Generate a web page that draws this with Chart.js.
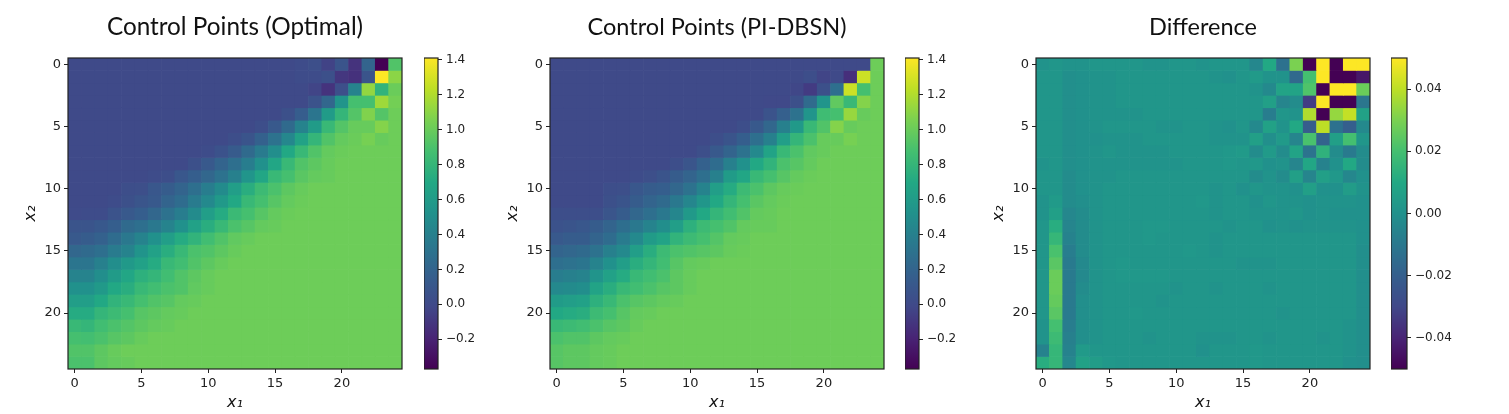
<!DOCTYPE html>
<html>
<head>
<meta charset="utf-8">
<script src="https://cdn.jsdelivr.net/npm/chart.js@4"></script>
<style>
  body { margin: 0; background: #fff; width: 1509px; height: 414px; overflow: hidden; position: relative; }
  canvas { position: absolute; top: 0; }
</style>
</head>
<body>
<canvas id="heatOptimal" style="left:0px" width="406" height="414"></canvas>
<canvas id="barOptimal" style="left:424px" width="70" height="414"></canvas>
<canvas id="heatPinn" style="left:482px" width="406" height="414"></canvas>
<canvas id="barPinn" style="left:905px" width="70" height="414"></canvas>
<canvas id="heatDiff" style="left:968px" width="406" height="414"></canvas>
<canvas id="barDiff" style="left:1391px" width="80" height="414"></canvas>
<script>
const columns = [0,1,2,3,4,5,6,7,8,9,10,11,12,13,14,15,16,17,18,19,20,21,22,23,24];
const axisTicks = [0, 5, 10, 15, 20];
const controlTicks = [-0.2, 0, 0.2, 0.4, 0.6, 0.8, 1.0, 1.2, 1.4];
const diffTicks = [-0.04, -0.02, 0, 0.02, 0.04];
const controlRange = [-0.37, 1.41];
const diffRange = [-0.05, 0.05];
const viridis = ['#440154','#482475','#404889','#355f8d','#2a788e','#21918c','#22a884','#44bf70','#7ad151','#bddf26','#fde725'];

const optimalRows = [
[0,0,0,0,0,0,0,0,0,0,0,0,0,0,0,0,0,.02,.04,-.04,.08,-.12,.2,-.37,.92],
[0,0,0,0,0,0,0,0,0,0,0,0,0,0,0,0,0,.02,.02,.05,-.1,-.13,.08,1.41,1.1],
[0,0,0,0,0,0,0,0,0,0,0,0,0,0,0,0,0,0,-.03,-.12,.04,.42,1.12,.78,1.0],
[0,0,0,0,0,0,0,0,0,0,0,0,0,0,0,0,0,0,.07,.22,.55,.88,.88,1.15,1.03],
[0,0,0,0,0,0,0,0,0,0,0,0,0,0,0,0,.05,.15,.32,.6,.8,.93,1.07,.93,1.01],
[0,0,0,0,0,0,0,0,0,0,0,0,0,0,.03,.12,.24,.42,.6,.82,.93,.99,.99,1.08,1.01],
[0,0,0,0,0,0,0,0,0,0,0,0,.03,.08,.18,.3,.45,.65,.8,.92,.98,1.0,1.04,.99,1.01],
[0,0,0,0,0,0,0,0,0,0,.02,.06,.13,.24,.36,.5,.7,.82,.92,.98,1.0,1.01,1.01,1.01,1.01],
[0,0,0,0,0,0,0,0,0,.05,.12,.2,.28,.38,.52,.68,.82,.92,.96,.99,1.01,1.01,1.01,1.01,1.01],
[0,0,0,0,0,0,.02,.03,.1,.16,.22,.3,.4,.55,.68,.82,.88,.95,.98,.99,1.01,1.01,1.01,1.01,1.01],
[0,0,0,0,.03,.04,.1,.14,.2,.28,.38,.48,.62,.74,.84,.9,.96,.99,1.01,1.01,1.01,1.01,1.01,1.01,1.01],
[0,0,0,.02,.05,.09,.12,.2,.26,.36,.46,.58,.7,.82,.88,.94,.98,1.0,1.01,1.01,1.01,1.01,1.01,1.01,1.01],
[.01,.02,.02,.07,.12,.16,.22,.3,.38,.48,.62,.72,.83,.88,.94,.98,1.0,1.01,1.01,1.01,1.01,1.01,1.01,1.01,1.01],
[.08,.08,.11,.16,.24,.28,.34,.42,.52,.64,.74,.82,.9,.94,.98,.99,1.01,1.01,1.01,1.01,1.01,1.01,1.01,1.01,1.01],
[.12,.14,.18,.26,.34,.42,.52,.62,.72,.78,.86,.92,.97,.99,1.01,1.01,1.01,1.01,1.01,1.01,1.01,1.01,1.01,1.01,1.01],
[.22,.24,.28,.36,.42,.54,.64,.74,.82,.9,.92,.96,.99,1.01,1.01,1.01,1.01,1.01,1.01,1.01,1.01,1.01,1.01,1.01,1.01],
[.32,.32,.4,.5,.58,.64,.72,.82,.86,.92,.96,.99,1.01,1.01,1.01,1.01,1.01,1.01,1.01,1.01,1.01,1.01,1.01,1.01,1.01],
[.42,.42,.5,.6,.68,.76,.8,.86,.92,.96,.99,1.01,1.01,1.01,1.01,1.01,1.01,1.01,1.01,1.01,1.01,1.01,1.01,1.01,1.01],
[.52,.52,.58,.7,.74,.82,.86,.9,.92,.97,.99,1.01,1.01,1.01,1.01,1.01,1.01,1.01,1.01,1.01,1.01,1.01,1.01,1.01,1.01],
[.62,.62,.7,.78,.82,.88,.92,.94,.98,.99,1.01,1.01,1.01,1.01,1.01,1.01,1.01,1.01,1.01,1.01,1.01,1.01,1.01,1.01,1.01],
[.72,.72,.8,.84,.88,.94,.96,.98,.99,1.01,1.01,1.01,1.01,1.01,1.01,1.01,1.01,1.01,1.01,1.01,1.01,1.01,1.01,1.01,1.01],
[.82,.8,.86,.9,.93,.96,.98,.99,1.01,1.01,1.01,1.01,1.01,1.01,1.01,1.01,1.01,1.01,1.01,1.01,1.01,1.01,1.01,1.01,1.01],
[.88,.87,.9,.94,.96,.99,1.01,1.01,1.01,1.01,1.01,1.01,1.01,1.01,1.01,1.01,1.01,1.01,1.01,1.01,1.01,1.01,1.01,1.01,1.01],
[.92,.92,.96,.99,1.01,1.01,1.01,1.01,1.01,1.01,1.01,1.01,1.01,1.01,1.01,1.01,1.01,1.01,1.01,1.01,1.01,1.01,1.01,1.01,1.01],
[.9,.9,.96,.98,.99,1.01,1.01,1.01,1.01,1.01,1.01,1.01,1.01,1.01,1.01,1.01,1.01,1.01,1.01,1.01,1.01,1.01,1.01,1.01,1.01]
];

const pinnRows = [
[0,0,0,0,0,0,0,0,0,0,0,0,0,0,0,0,0,0,0,0,0,0,0,0,1.01],
[0,0,0,0,0,0,0,0,0,0,0,0,0,0,0,0,0,0,0,.03,-.03,0,-.14,1.27,1.01],
[0,0,0,0,0,0,0,0,0,0,0,0,0,0,0,0,0,0,-.02,-.08,.05,.28,1.27,.88,1.01],
[0,0,0,0,0,0,0,0,0,0,0,0,0,0,0,0,-.01,-.01,.05,.25,.55,.97,.82,1.08,1.01],
[0,0,0,0,0,0,0,0,0,0,0,0,0,0,0,0,.07,.17,.3,.55,.85,.88,1.13,.99,1.01],
[0,0,0,0,0,0,0,0,0,0,0,0,0,0,.03,.12,.22,.4,.58,.82,.92,1.08,.99,1.01,1.01],
[0,0,0,0,0,0,0,0,0,0,0,0,.03,.08,.16,.28,.4,.62,.8,.9,.99,.99,1.04,1.01,1.01],
[0,0,0,0,0,0,0,0,0,0,0,.04,.12,.2,.3,.46,.66,.82,.9,.97,.99,1.01,1.01,1.01,1.01],
[0,0,0,0,0,0,0,0,0,.03,.09,.18,.26,.4,.52,.7,.78,.9,.94,.98,1.01,1.01,1.01,1.01,1.01],
[0,0,0,0,0,0,.02,.04,.08,.14,.2,.28,.4,.6,.68,.82,.88,.94,.98,1.0,1.01,1.01,1.01,1.01,1.01],
[0,0,0,0,.03,.04,.1,.14,.16,.22,.3,.42,.62,.72,.84,.9,.96,.99,1.0,1.01,1.01,1.01,1.01,1.01,1.01],
[0,0,0,0,.05,.08,.14,.2,.24,.34,.44,.56,.7,.8,.88,.95,.98,1.0,1.01,1.01,1.01,1.01,1.01,1.01,1.01],
[.03,.03,.03,.03,.09,.14,.22,.28,.34,.44,.58,.7,.8,.86,.92,.98,.99,1.01,1.01,1.01,1.01,1.01,1.01,1.01,1.01],
[.06,.08,.1,.14,.2,.27,.34,.42,.5,.62,.76,.84,.88,.92,.98,.99,.99,1.01,1.01,1.01,1.01,1.01,1.01,1.01,1.01],
[.12,.14,.14,.2,.26,.36,.46,.6,.66,.78,.84,.88,.93,.98,.99,1.01,1.01,1.01,1.01,1.01,1.01,1.01,1.01,1.01,1.01],
[.2,.22,.24,.3,.4,.46,.62,.74,.84,.9,.92,.94,.96,.99,1.0,1.01,1.01,1.01,1.01,1.01,1.01,1.01,1.01,1.01,1.01],
[.28,.3,.32,.42,.52,.62,.74,.8,.86,.94,.98,.99,1.01,1.01,1.01,1.01,1.01,1.01,1.01,1.01,1.01,1.01,1.01,1.01,1.01],
[.38,.4,.42,.54,.64,.72,.82,.86,.9,.96,.99,1.01,1.01,1.01,1.01,1.01,1.01,1.01,1.01,1.01,1.01,1.01,1.01,1.01,1.01],
[.46,.48,.5,.66,.74,.82,.86,.9,.94,.96,.99,1.01,1.01,1.01,1.01,1.01,1.01,1.01,1.01,1.01,1.01,1.01,1.01,1.01,1.01],
[.6,.62,.64,.76,.82,.9,.94,.96,.98,.99,1.01,1.01,1.01,1.01,1.01,1.01,1.01,1.01,1.01,1.01,1.01,1.01,1.01,1.01,1.01],
[.7,.72,.74,.84,.88,.94,.98,.99,1.01,1.01,1.01,1.01,1.01,1.01,1.01,1.01,1.01,1.01,1.01,1.01,1.01,1.01,1.01,1.01,1.01],
[.82,.84,.86,.9,.94,.96,.99,1.01,1.01,1.01,1.01,1.01,1.01,1.01,1.01,1.01,1.01,1.01,1.01,1.01,1.01,1.01,1.01,1.01,1.01],
[.9,.92,.92,.96,.98,.99,1.01,1.01,1.01,1.01,1.01,1.01,1.01,1.01,1.01,1.01,1.01,1.01,1.01,1.01,1.01,1.01,1.01,1.01,1.01],
[.94,.96,.96,.98,.99,1.01,1.01,1.01,1.01,1.01,1.01,1.01,1.01,1.01,1.01,1.01,1.01,1.01,1.01,1.01,1.01,1.01,1.01,1.01,1.01],
[.94,.96,.96,.98,.99,1.01,1.01,1.01,1.01,1.01,1.01,1.01,1.01,1.01,1.01,1.01,1.01,1.01,1.01,1.01,1.01,1.01,1.01,1.01,1.01]
];

const diffRows = [
[.001,.002,.001,.001,.002,.002,.002,.002,.001,.001,.002,.002,.001,.002,.002,.002,-.004,.01,-.013,.03,-.05,.05,-.05,.05,.05],
[.002,.002,-.001,.0,.001,.001,.002,.002,.002,.002,.002,.002,.002,.001,.0,.002,.004,.001,.001,-.016,.02,.05,-.05,-.05,-.044],
[.002,.002,-.001,.0,.001,.001,.002,.002,.002,.002,.002,.002,.002,.002,.002,.002,.001,-.003,.008,.008,.022,-.05,.05,.05,.027],
[.002,.002,-.001,.0,.001,.001,.002,.002,.002,.002,.002,.002,.002,.002,.002,.002,.002,.006,-.005,-.002,-.033,.05,-.05,-.05,-.011],
[.002,.002,-.001,.0,.001,.001,.001,.001,.002,.002,.002,.002,.002,.002,.002,.002,.002,-.008,.002,.001,.038,-.05,.034,.041,.007],
[.002,.002,-.001,.0,.001,.002,.002,.002,.002,.001,.001,.002,.002,.001,.0,.002,-.003,.007,.001,.01,-.021,.04,-.013,-.02,-.003],
[.002,.002,-.001,.0,.0,.001,.001,.001,.002,.002,.002,.002,.002,.001,.001,.001,.006,-.001,.004,-.005,.021,-.018,.006,.02,.002],
[.002,.002,-.001,.0,.001,.002,.001,.001,.001,.001,.002,.002,.002,.002,.003,.004,-.002,.004,-.002,.008,-.012,.014,-.002,-.009,-.002],
[.001,.002,-.001,.0,.001,.001,.001,.001,.001,.001,.001,.002,.002,.002,.003,.002,.003,.0,.001,-.005,.009,-.006,.0,.01,-.002],
[.002,.002,-.002,.0,.001,.001,.002,.002,.002,.002,.002,.002,.002,.002,.002,.002,-.002,.001,-.002,.006,-.005,.006,.003,-.004,.0],
[.002,.002,-.002,.0,.001,.002,.002,.002,.002,.002,.002,.002,.002,.001,.002,.0,.002,.001,.001,.0,.006,.0,.0,.005,.001],
[.001,.004,-.002,-.001,.001,.002,.002,.002,.002,.002,.002,.002,.003,.001,.002,.002,.0,.002,.001,.001,.0,.001,.001,.001,.0],
[.001,.006,-.004,-.002,.001,.002,.002,.002,.002,.002,.002,.002,.002,.001,.002,.002,.001,.001,.001,.002,.0,.001,.0,.0,.0],
[.002,.012,-.005,-.002,.001,.002,.002,.002,.003,.003,.002,.002,.002,.002,.001,.002,.002,.0,.001,.0,.001,.001,.001,.001,.0],
[.002,.016,-.006,-.002,.001,.002,.002,.002,.003,.002,.002,.002,.002,.001,.002,.002,.002,.002,.002,.002,.002,.002,.002,.002,.0],
[.002,.021,-.008,-.002,.001,.002,.002,.002,.002,.002,.002,.003,.002,.001,.002,.002,.002,.002,.002,.002,.002,.002,.002,.002,-.001],
[.002,.024,-.009,-.003,.001,.002,.003,.002,.002,.002,.002,.002,.002,.002,.002,.001,.001,.001,.002,.002,.002,.002,.002,.002,-.001],
[.002,.027,-.009,-.003,.001,.002,.003,.003,.003,.003,.002,.002,.002,.002,.002,.002,.002,.002,.002,.002,.002,.002,.002,.002,-.001],
[.002,.027,-.009,-.002,.001,.002,.002,.002,.002,.002,.001,.002,.002,.001,.002,.002,.002,.001,.002,.002,.002,.002,.002,.002,-.001],
[.002,.026,-.009,-.001,.001,.002,.002,.002,.002,.001,.002,.002,.002,.002,.002,.002,.002,.002,.002,.002,.002,.002,.002,.002,-.001],
[.002,.024,-.009,-.001,.001,.002,.002,.003,.002,.002,.002,.002,.002,.002,.002,.002,.002,.002,.001,.002,.002,.002,.002,.002,-.001],
[.001,.02,-.008,-.001,.001,.002,.002,.002,.002,.002,.002,.002,.002,.002,.002,.002,.002,.002,.002,.002,.002,.002,.002,.001,-.001],
[.001,.018,-.007,-.001,.001,.002,.002,.002,.001,.002,.002,.002,.001,.001,.001,.002,.002,.001,.002,.002,.002,.001,.002,.001,-.001],
[-.006,.016,-.006,.004,.002,.002,.002,.002,.002,.002,.002,.002,.0,.002,.002,.002,.003,.002,.002,.002,.002,.002,.002,.001,-.001],
[.012,.016,-.004,.007,.005,.003,.002,.002,.002,.002,.002,.002,.002,.002,.002,.002,.003,.002,.002,.002,.002,.002,.002,.0,-.001]
];

function hexRgb(hex) {
  return [1, 3, 5].map((i) => parseInt(hex.slice(i, i + 2), 16));
}

function viridisColor(t) {
  const p = Math.min(Math.max(t, 0), 1) * (viridis.length - 1);
  const i = Math.min(Math.floor(p), viridis.length - 2);
  const a = hexRgb(viridis[i]);
  const b = hexRgb(viridis[i + 1]);
  const c = a.map((v, k) => Math.round(v + (b[k] - v) * (p - i)));
  return `rgb(${c[0]},${c[1]},${c[2]})`;
}

// matplotlib draws a full box round the axes, the scales only give two sides
const boxOutline = {
  id: 'boxOutline',
  afterDatasetsDraw(chart) {
    const { ctx, chartArea: a } = chart;
    ctx.save();
    ctx.strokeStyle = '#222';
    ctx.lineWidth = 1.2;
    ctx.strokeRect(a.left, a.top, a.right - a.left, a.bottom - a.top);
    ctx.restore();
  }
};

const tickFont = { family: '"DejaVu Sans"', size: 13 };
const tickGrid = { display: true, drawOnChartArea: false, drawTicks: true, tickLength: 4, tickColor: '#222', offset: false };

function axisOptions(title, padding, extra) {
  return Object.assign({
    type: 'linear',
    min: -0.5,
    max: 24.5,
    offset: false,
    grid: tickGrid,
    border: { display: false },
    afterBuildTicks: (scale) => { scale.ticks = axisTicks.map((value) => ({ value })); },
    ticks: {
      color: '#222',
      font: tickFont,
      autoSkip: false,
      maxRotation: 0,
      padding: 3,
      callback: (v) => String(v)
    },
    title: {
      display: true,
      text: title,
      color: '#111',
      font: { family: '"DejaVu Sans"', size: 16, style: 'italic' },
      padding
    }
  }, extra);
}

function renderHeatmap(id, heading, headingSize, rows, range) {
  const span = range[1] - range[0];
  const datasets = rows.map((row, r) => ({
    data: columns.map((c) => ({ x: c, y: [r - 0.5, r + 0.5] })),
    backgroundColor: row.map((v) => viridisColor((v - range[0]) / span)),
    borderWidth: 0,
    barPercentage: 1,
    categoryPercentage: 1,
    grouped: false
  }));

  new Chart(document.getElementById(id), {
    type: 'bar',
    data: { datasets },
    plugins: [boxOutline],
    options: {
      responsive: false,
      animation: false,
      events: [],
      layout: { padding: { right: 4 } },
      plugins: {
        legend: { display: false },
        tooltip: { enabled: false },
        title: {
          display: true,
          text: heading,
          color: '#111',
          fullSize: false,
          font: { family: 'Lato', size: headingSize, weight: 'normal', lineHeight: 29 / headingSize },
          padding: { top: 13, bottom: 16 }
        }
      },
      scales: {
        x: axisOptions('x₁', { top: 0, bottom: 2 }, {
          afterFit: (scale) => { scale.height = 45; }
        }),
        y: axisOptions('x₂', { top: 21, bottom: 0 }, {
          reverse: true,
          afterFit: (scale) => { scale.width = 68; }
        })
      }
    }
  });
}

function renderColorbar(id, range, tickValues, digits) {
  new Chart(document.getElementById(id), {
    type: 'bar',
    data: {
      labels: ['colorbar'],
      datasets: [{
        data: [range],
        borderWidth: 0,
        barPercentage: 1,
        categoryPercentage: 1,
        backgroundColor: (ctx) => {
          const area = ctx.chart.chartArea;
          if (!area) return viridis[5];
          const g = ctx.chart.ctx.createLinearGradient(0, area.bottom, 0, area.top);
          viridis.forEach((color, i) => g.addColorStop(i / (viridis.length - 1), color));
          return g;
        }
      }]
    },
    plugins: [boxOutline],
    options: {
      responsive: false,
      animation: false,
      events: [],
      layout: { padding: { top: 58, bottom: 45 } },
      plugins: { legend: { display: false }, tooltip: { enabled: false } },
      scales: {
        x: { display: false },
        y: {
          position: 'right',
          min: range[0],
          max: range[1],
          grid: tickGrid,
          border: { display: false },
          afterBuildTicks: (scale) => { scale.ticks = tickValues.map((value) => ({ value })); },
          afterFit: (scale) => { scale.width = id === 'barDiff' ? 64 : 56; },
          ticks: {
            color: '#222',
            font: { family: '"DejaVu Sans"', size: 12 },
            autoSkip: false,
            padding: 4,
            callback: (v) => v.toFixed(digits).replace('-', '\u2212')
          }
        }
      }
    }
  });
}

renderHeatmap('heatOptimal', 'Control Points (Optimal)', 24.3, optimalRows, controlRange);
renderColorbar('barOptimal', controlRange, controlTicks, 1);
renderHeatmap('heatPinn', 'Control Points (PI-DBSN)', 23.5, pinnRows, controlRange);
renderColorbar('barPinn', controlRange, controlTicks, 1);
renderHeatmap('heatDiff', 'Difference', 23.5, diffRows, diffRange);
renderColorbar('barDiff', diffRange, diffTicks, 2);
</script>
</body>
</html>
